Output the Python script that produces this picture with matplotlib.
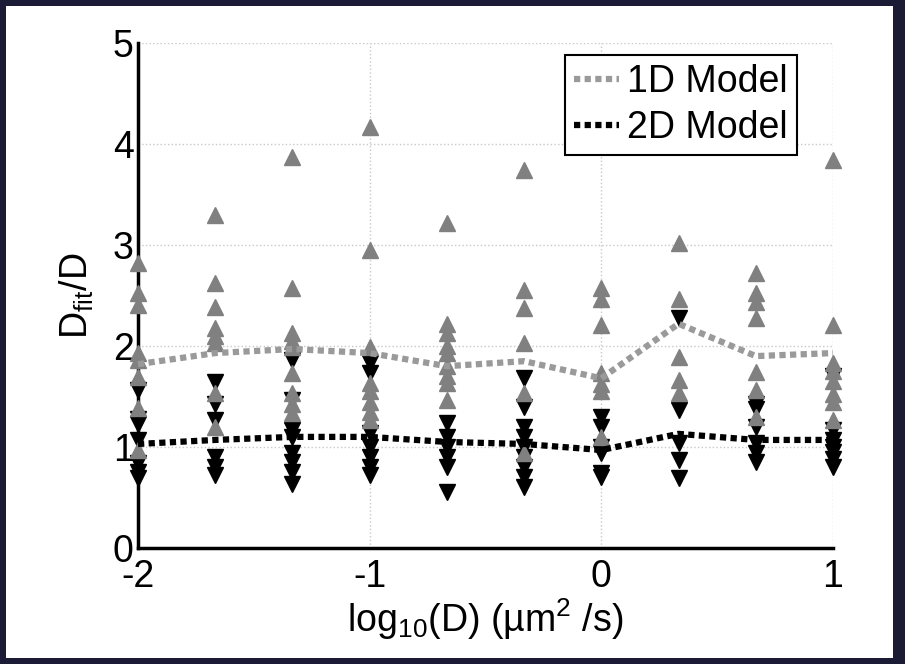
import matplotlib
matplotlib.use('Agg')
import matplotlib.pyplot as plt
from matplotlib.patches import Rectangle

plt.rcParams['font.family'] = ['Liberation Sans', 'DejaVu Sans']
plt.rcParams['mathtext.fontset'] = 'custom'
plt.rcParams['mathtext.rm'] = 'Liberation Sans'
plt.rcParams['mathtext.it'] = 'Liberation Sans:italic'
plt.rcParams['axes.unicode_minus'] = False

# log10(D) positions
log_d = [-2, -5/3, -4/3, -1, -2/3, -1/3, 0, 1/3, 2/3, 1]

# individual fits, 1D model (gray up triangles)
fits_1d = [
    [2.82, 2.52, 2.41, 1.93, 1.86, 1.69, 1.39, 0.97],
    [3.30, 2.62, 2.39, 2.18, 2.10, 2.03, 1.53, 1.20],
    [3.87, 2.57, 2.13, 2.05, 1.99, 1.73, 1.53, 1.43, 1.34],
    [4.17, 2.95, 1.99, 1.63, 1.55, 1.45, 1.35, 1.27],
    [3.22, 2.22, 2.13, 2.00, 1.93, 1.80, 1.70, 1.63, 1.47],
    [3.74, 2.55, 2.38, 2.03, 1.53, 0.94],
    [2.57, 2.47, 2.21, 1.73, 1.62, 1.55, 1.10],
    [3.02, 2.47, 1.89, 1.66, 1.53],
    [2.72, 2.52, 2.44, 2.28, 1.74, 1.56, 1.30],
    [3.84, 2.21, 1.83, 1.75, 1.65, 1.52, 1.45, 1.27],
]

# individual fits, 2D model (black down triangles)
fits_2d = [
    [1.56, 1.28, 1.23, 1.07, 0.84, 0.75, 0.69],
    [1.64, 1.43, 1.27, 0.90, 0.80, 0.72],
    [1.86, 1.47, 1.17, 1.10, 0.94, 0.85, 0.75, 0.63],
    [1.83, 1.73, 1.14, 1.00, 0.90, 0.80, 0.72],
    [1.24, 1.10, 1.00, 0.90, 0.80, 0.55],
    [1.68, 1.40, 1.20, 1.10, 1.00, 0.90, 0.80, 0.70, 0.60],
    [1.30, 1.20, 1.00, 0.94, 0.74, 0.70],
    [2.28, 1.37, 1.04, 0.87, 0.69],
    [1.43, 1.38, 1.20, 1.04, 0.94, 0.85],
    [1.70, 1.17, 1.07, 1.00, 0.95, 0.88, 0.80],
]

mean_1d = [1.82, 1.93, 1.97, 1.93, 1.80, 1.85, 1.68, 2.22, 1.90, 1.93]
mean_2d = [1.03, 1.07, 1.10, 1.10, 1.05, 1.03, 0.97, 1.13, 1.07, 1.07]


def main():
    fig = plt.figure(figsize=(9.05, 6.64), dpi=100, facecolor='#1b1b36')
    fig.patches.append(Rectangle((6 / 905, 6 / 664), 887 / 905, 652 / 664,
                                 transform=fig.transFigure, facecolor='white',
                                 edgecolor='none', zorder=-10))
    ax = fig.add_axes([138 / 905, 116 / 664, 695 / 905, 505 / 664])
    ax.set_zorder(1)
    ax.set_facecolor('white')

    for x, vals in zip(log_d, fits_2d):
        ax.plot([x] * len(vals), vals, 'v', color='black', ms=11, clip_on=False, zorder=3)
    for x, vals in zip(log_d, fits_1d):
        ax.plot([x] * len(vals), vals, '^', color='#808080', ms=11, clip_on=False, zorder=3)

    ax.plot(log_d, mean_1d, color='#9a9a9a', lw=4.5, ls=(0, (1, 0.7)),
            label='1D Model', zorder=4, clip_on=False)
    ax.plot(log_d, mean_2d, color='black', lw=4.5, ls=(0, (1, 0.7)),
            label='2D Model', zorder=4, clip_on=False)

    ax.set_xlim(-2, 1)
    ax.set_ylim(0, 5)
    ax.set_xticks([-2, -1, 0, 1])
    ax.set_yticks([0, 1, 2, 3, 4, 5])
    ax.grid(True, color='#c8c8c8', ls=':', lw=1)
    ax.set_axisbelow(True)

    for side in ['top', 'right']:
        ax.spines[side].set_visible(False)
    for side in ['left', 'bottom']:
        ax.spines[side].set_linewidth(2.5)
    ax.tick_params(length=0, labelsize=27, pad=3)
    ax.tick_params(axis='x', pad=8)

    ax.set_ylabel(r'D$_{\mathrm{fit}}$/D', fontsize=27, labelpad=12)
    ax.set_xlabel(r'log$_{10}$(D) (µm$^2$ /s)', fontsize=27, labelpad=1)

    leg = ax.legend(loc='upper right', bbox_to_anchor=(0.948, 0.976), fontsize=27,
                    handlelength=1.2, handletextpad=0.2, borderpad=0.25,
                    labelspacing=0.25, fancybox=False, framealpha=1,
                    borderaxespad=0)
    leg.get_frame().set_edgecolor('black')
    leg.get_frame().set_linewidth(1.5)

    fig.savefig('out.png', dpi=100, facecolor=fig.get_facecolor())


if __name__ == '__main__':
    main()
